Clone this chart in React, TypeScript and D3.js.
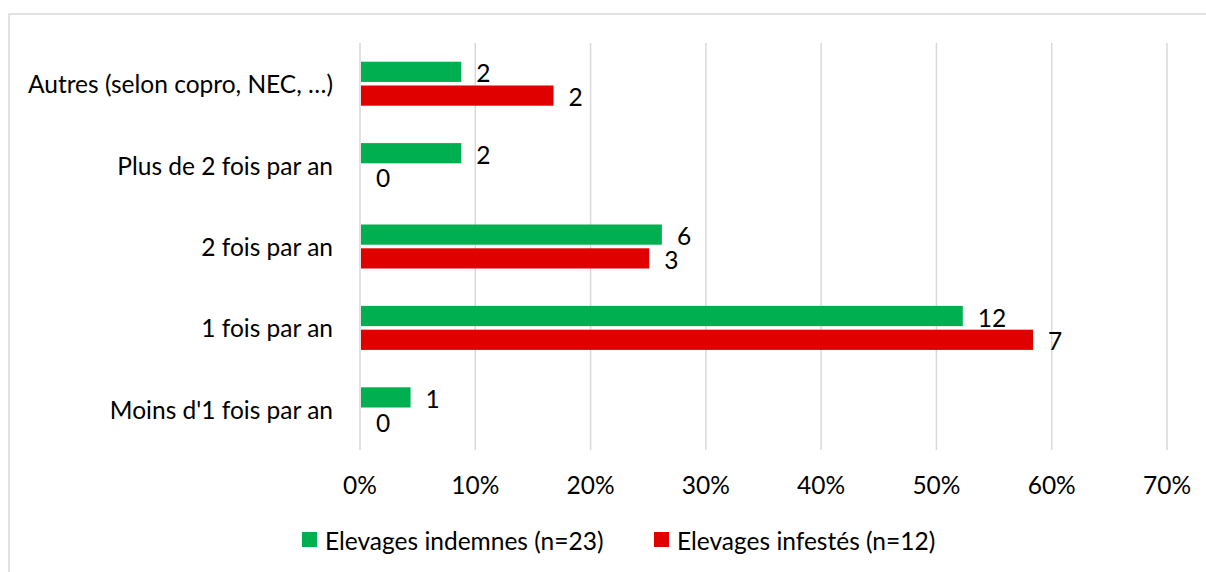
import React from "react";
import * as d3 from "d3";

const categories = [
  "Autres (selon copro, NEC, …)",
  "Plus de 2 fois par an",
  "2 fois par an",
  "1 fois par an",
  "Moins d'1 fois par an",
];
const seriesNames = ["Elevages indemnes (n=23)", "Elevages infestés (n=12)"];
const seriesColors = ["#00b050", "#e00000"];
// percentages
const indemnesPct = [0.087, 0.087, 0.261, 0.522, 0.043];
const infestesPct = [0.167, 0, 0.25, 0.583, 0];
// data labels (counts)
const indemnesLabels = ["2", "2", "6", "12", "1"];
const infestesLabels = ["2", "0", "3", "7", "0"];
const xTicks = [0, 0.1, 0.2, 0.3, 0.4, 0.5, 0.6, 0.7];

const W = 1206;
const H = 572;
const FONT = "Lato, Carlito, Calibri, 'Open Sans', sans-serif";
const FS = 24.5;

export default function App() {
  const x = d3.scaleLinear().domain([0, 0.7]).range([360, 1167]);
  const y = d3.scaleBand<string>().domain(categories).range([43, 450]);
  const sub = d3
    .scaleBand<number>()
    .domain([0, 1])
    .range([-22, 22])
    .paddingInner(0.15);
  const values = [indemnesPct, infestesPct];
  const labels = [indemnesLabels, infestesLabels];
  const fmt = d3.format(".0%");

  return (
    <svg
      width={W}
      height={H}
      style={{ position: "absolute", left: 0, top: 0, fontFamily: FONT }}
    >
      <rect x={0} y={0} width={W} height={H} fill="#ffffff" />
      <rect
        x={9}
        y={14}
        width={W + 20}
        height={H + 20}
        fill="#ffffff"
        stroke="#d9d9d9"
        strokeWidth={1.5}
      />
      {xTicks.map((t) => (
        <line
          key={"g" + t}
          x1={x(t)}
          x2={x(t)}
          y1={43}
          y2={450}
          stroke="#d9d9d9"
          strokeWidth={1.5}
        />
      ))}
      {xTicks.map((t) => (
        <text
          key={"t" + t}
          x={x(t)}
          y={484}
          textAnchor="middle"
          dominantBaseline="central"
          fontSize={FS}
          fill="#000"
        >
          {fmt(t)}
        </text>
      ))}
      {categories.map((c) => {
        const cy = (y(c) as number) + y.bandwidth() / 2;
        return (
          <text
            key={"c" + c}
            x={333}
            y={cy}
            textAnchor="end"
            dominantBaseline="central"
            fontSize={FS}
            fill="#000"
          >
            {c}
          </text>
        );
      })}
      {categories.map((c, i) => {
        const cy = (y(c) as number) + y.bandwidth() / 2;
        return (
          <g key={"b" + c}>
            {values.map((vals, s) => {
              const top = cy + (sub(s) as number);
              const w = x(vals[i]) - x(0);
              return (
                <g key={s}>
                  {w > 0 && (
                    <rect
                      x={x(0) + 1}
                      y={top}
                      width={w}
                      height={sub.bandwidth()}
                      fill={seriesColors[s]}
                    />
                  )}
                  <text
                    x={x(vals[i]) + 16}
                    y={top + sub.bandwidth() / 2 + 1}
                    dominantBaseline="central"
                    fontSize={FS}
                    fill="#000"
                  >
                    {labels[s][i]}
                  </text>
                </g>
              );
            })}
          </g>
        );
      })}
      {seriesNames.map((n, s) => {
        const lx = s === 0 ? 302 : 654;
        return (
          <g key={"l" + s}>
            <rect x={lx} y={532} width={15} height={15} fill={seriesColors[s]} />
            <text
              x={lx + 23}
              y={540}
              dominantBaseline="central"
              fontSize={FS}
              fill="#000"
            >
              {n}
            </text>
          </g>
        );
      })}
    </svg>
  );
}
